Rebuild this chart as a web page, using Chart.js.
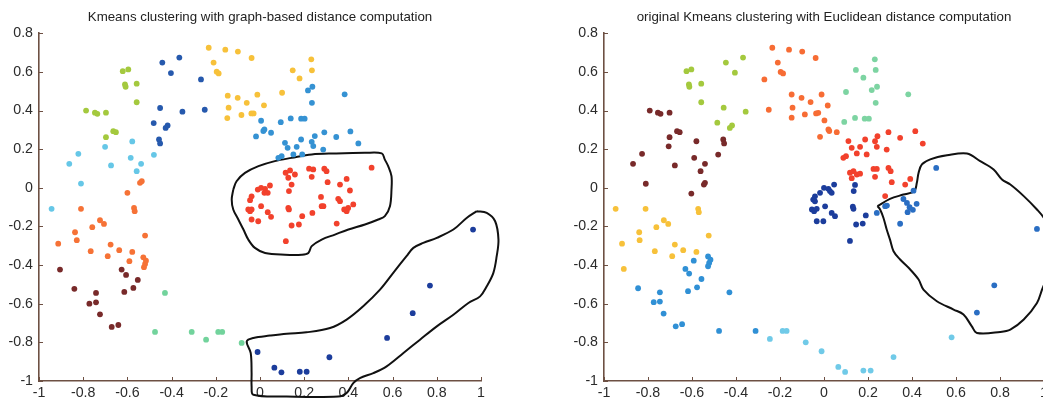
<!DOCTYPE html>
<html>
<head>
<meta charset="utf-8">
<title>Kmeans clustering</title>
<script src="https://cdn.jsdelivr.net/npm/chart.js@4.4.1/dist/chart.umd.min.js"></script>
<style>
  html, body { margin: 0; padding: 0; background: #fff; overflow: hidden; width: 1043px; height: 400px; }
  .panel { position: absolute; top: 0; height: 400px; }
  #leftPanel { left: 0; width: 520px; }
  #rightPanel { left: 565px; width: 518px; }
</style>
</head>
<body>
<div class="panel" id="leftPanel"><canvas id="chartLeft" width="520" height="400"></canvas></div>
<div class="panel" id="rightPanel"><canvas id="chartRight" width="518" height="400"></canvas></div>
<script>
// axis ticks
const xTickValues = [-1, -0.8, -0.6, -0.4, -0.2, 0, 0.2, 0.4, 0.6, 0.8, 1];
const yTickValues = [-1, -0.8, -0.6, -0.4, -0.2, 0, 0.2, 0.4, 0.6, 0.8];

const leftTitle = "Kmeans clustering with graph-based distance computation";
const rightTitle = "original Kmeans clustering with Euclidean distance computation";

// ---- graph-based clusters ----
const leftBlue = [[-0.442,0.648],[-0.365,0.674],[-0.403,0.594],[-0.267,0.561],[-0.452,0.413],[-0.351,0.394],[-0.25,0.404],[-0.481,0.335],[-0.427,0.31],[-0.418,0.323],[-0.457,0.25],[-0.452,0.23]];
const leftNavy = [[-0.011,-0.85],[0.065,-0.931],[0.097,-0.955],[0.18,-0.952],[0.211,-0.952],[0.314,-0.877],[0.575,-0.777],[0.691,-0.649],[0.769,-0.506],[0.964,-0.216]];
const leftYellow = [[-0.232,0.725],[-0.157,0.715],[-0.1,0.705],[-0.038,0.672],[-0.21,0.648],[-0.196,0.601],[-0.187,0.592],[-0.146,0.477],[-0.101,0.466],[-0.06,0.44],[-0.012,0.482],[-0.142,0.415],[-0.148,0.361],[-0.084,0.377],[-0.039,0.385],[-0.029,0.385],[0.018,0.427],[0.1,0.492],[0.148,0.608],[0.179,0.566],[0.232,0.665],[0.235,0.608]];
const leftSky = [[0.383,0.484],[0.217,0.504],[0.237,0.523],[0.235,0.44],[0.005,0.347],[0.02,0.302],[0.015,0.294],[0.05,0.285],[-0.018,0.266],[0.094,0.34],[0.139,0.359],[0.186,0.358],[0.202,0.358],[0.113,0.233],[0.125,0.207],[0.151,0.173],[0.166,0.212],[0.191,0.173],[0.186,0.25],[0.234,0.238],[0.248,0.268],[0.241,0.216],[0.291,0.287],[0.286,0.198],[0.345,0.263],[0.409,0.292],[0.445,0.23],[0.083,0.155],[0.098,0.164]];
const leftRed = [[0.505,0.104],[0.116,0.078],[0.136,0.09],[0.158,0.069],[0.128,0.052],[0.143,0.017],[0.131,-0.017],[0.222,0.099],[0.241,0.095],[0.234,0.057],[0.291,0.099],[0.301,0.086],[0.306,0.029],[0.362,0.017],[0.392,0.046],[0.407,-0.014],[0.276,-0.047],[0.354,-0.057],[0.362,-0.069],[0.422,-0.086],[0.279,-0.095],[0.287,-0.095],[0.381,-0.112],[0.399,-0.104],[0.392,-0.121],[0.237,-0.13],[0.191,-0.147],[0.176,-0.19],[0.143,-0.195],[0.347,-0.185],[0.128,-0.104],[0.131,-0.112],[0.117,-0.276],[0.045,0.012],[0.005,0.0],[-0.01,-0.009],[0.023,-0.005],[0.02,-0.026],[0.035,-0.026],[-0.038,-0.044],[-0.045,-0.064],[0.005,-0.095],[-0.053,-0.112],[-0.045,-0.121],[-0.038,-0.112],[0.035,-0.126],[0.05,-0.15],[-0.038,-0.164],[-0.008,-0.173]];
const leftLime = [[-0.621,0.604],[-0.596,0.613],[-0.611,0.535],[-0.608,0.523],[-0.558,0.539],[-0.558,0.443],[-0.787,0.4],[-0.747,0.389],[-0.736,0.383],[-0.697,0.389],[-0.664,0.293],[-0.652,0.288],[-0.697,0.262]];
const leftCyan = [[-0.578,0.24],[-0.822,0.176],[-0.863,0.124],[-0.701,0.212],[-0.674,0.116],[-0.585,0.155],[-0.538,0.124],[-0.558,0.086],[-0.48,0.171],[-0.81,0.022],[-0.943,-0.109]];
const leftOrange = [[-0.543,0.026],[-0.535,0.034],[-0.6,-0.026],[-0.57,-0.104],[-0.567,-0.121],[-0.81,-0.109],[-0.724,-0.168],[-0.706,-0.187],[-0.759,-0.204],[-0.837,-0.23],[-0.829,-0.271],[-0.913,-0.289],[-0.52,-0.247],[-0.676,-0.294],[-0.637,-0.323],[-0.766,-0.328],[-0.578,-0.332],[-0.689,-0.354],[-0.591,-0.38],[-0.528,-0.36],[-0.516,-0.377],[-0.52,-0.394],[-0.525,-0.411]];
const leftBrown = [[-0.905,-0.423],[-0.84,-0.523],[-0.742,-0.544],[-0.772,-0.6],[-0.742,-0.593],[-0.724,-0.655],[-0.671,-0.72],[-0.641,-0.71],[-0.626,-0.423],[-0.606,-0.451],[-0.614,-0.539],[-0.573,-0.518],[-0.553,-0.477]];
const leftMint = [[-0.43,-0.544],[-0.475,-0.746],[-0.309,-0.746],[-0.244,-0.786],[-0.189,-0.746],[-0.171,-0.746],[-0.083,-0.803]];

// hand-drawn outlines, graph-based panel
const leftLoopUpper = [[-0.121,-0.009],[-0.106,0.034],[-0.068,0.077],[-0.007,0.112],[0.067,0.138],[0.143,0.155],[0.234,0.173],[0.339,0.178],[0.475,0.181],[0.551,0.178],[0.565,0.146],[0.58,0.112],[0.595,0.06],[0.595,-0.009],[0.588,-0.095],[0.565,-0.147],[0.535,-0.164],[0.475,-0.19],[0.4,-0.216],[0.339,-0.242],[0.279,-0.268],[0.234,-0.302],[0.219,-0.337],[0.189,-0.346],[0.113,-0.346],[0.023,-0.337],[-0.023,-0.311],[-0.053,-0.268],[-0.075,-0.216],[-0.098,-0.164],[-0.121,-0.112],[-0.128,-0.06],[-0.121,-0.009]];
const leftLoopLower = [[0.981,-0.121],[1.026,-0.13],[1.064,-0.173],[1.079,-0.268],[1.071,-0.354],[1.056,-0.44],[1.026,-0.51],[0.996,-0.562],[0.943,-0.596],[0.875,-0.657],[0.8,-0.717],[0.724,-0.786],[0.649,-0.855],[0.573,-0.924],[0.513,-0.959],[0.452,-0.985],[0.422,-1.011],[0.392,-1.062],[0.354,-1.08],[0.121,-1.08],[-0.03,-1.071],[-0.038,-1.028],[-0.038,-0.959],[-0.042,-0.855],[-0.06,-0.795],[-0.03,-0.777],[0.045,-0.765],[0.121,-0.755],[0.21,-0.748],[0.317,-0.726],[0.392,-0.682],[0.467,-0.613],[0.543,-0.527],[0.603,-0.44],[0.663,-0.354],[0.694,-0.311],[0.739,-0.285],[0.8,-0.259],[0.875,-0.216],[0.935,-0.156],[0.981,-0.121]];

// ---- euclidean clusters ----
const rightBrown = [[-0.792,0.4],[-0.755,0.389],[-0.743,0.383],[-0.702,0.389],[-0.668,0.293],[-0.656,0.288],[-0.702,0.262],[-0.706,0.215],[-0.58,0.241],[-0.868,0.124],[-0.827,0.176],[-0.81,0.021],[-0.678,0.116],[-0.59,0.155],[-0.541,0.124],[-0.561,0.086],[-0.541,0.026],[-0.546,0.017],[-0.603,-0.03],[-0.481,0.172],[-0.458,0.25],[-0.454,0.23]];
const rightLime = [[-0.625,0.604],[-0.603,0.613],[-0.614,0.535],[-0.612,0.523],[-0.558,0.539],[-0.558,0.443],[-0.446,0.648],[-0.368,0.674],[-0.405,0.596],[-0.456,0.415],[-0.356,0.394],[-0.485,0.337],[-0.428,0.31],[-0.418,0.323]];
const rightOrange = [[-0.235,0.725],[-0.159,0.715],[-0.099,0.705],[-0.038,0.672],[-0.21,0.648],[-0.197,0.6],[-0.186,0.592],[-0.271,0.561],[-0.251,0.404],[-0.147,0.483],[-0.102,0.466],[-0.061,0.444],[-0.011,0.483],[-0.143,0.415],[-0.147,0.363],[-0.087,0.38],[-0.036,0.385],[-0.026,0.388],[0.017,0.426],[0.002,0.349],[0.02,0.302],[0.024,0.294],[-0.018,0.264],[0.058,0.288]];
const rightMint = [[0.231,0.665],[0.235,0.61],[0.241,0.523],[0.217,0.506],[0.235,0.44],[0.145,0.61],[0.179,0.57],[0.1,0.496],[0.092,0.341],[0.141,0.362],[0.185,0.358],[0.204,0.358],[0.383,0.484]];
const rightRed = [[0.111,0.242],[0.126,0.207],[0.164,0.212],[0.187,0.25],[0.232,0.241],[0.243,0.267],[0.24,0.212],[0.285,0.198],[0.293,0.288],[0.346,0.259],[0.415,0.293],[0.449,0.229],[0.088,0.155],[0.1,0.164],[0.149,0.178],[0.194,0.173],[0.118,0.078],[0.134,0.086],[0.149,0.069],[0.164,0.073],[0.126,0.05],[0.225,0.098],[0.24,0.098],[0.232,0.057],[0.293,0.103],[0.303,0.086],[0.308,0.029],[0.369,0.017],[0.392,0.046],[0.278,-0.043]];
const rightNavy = [[0.046,0.017],[0.0,0.0],[0.02,-0.005],[0.027,-0.017],[0.035,-0.026],[-0.018,-0.026],[-0.041,-0.044],[-0.049,-0.061],[-0.041,-0.07],[0.005,-0.096],[-0.055,-0.112],[-0.045,-0.121],[-0.033,-0.109],[0.035,-0.13],[0.05,-0.147],[-0.033,-0.173],[-0.003,-0.173],[0.141,0.015],[0.135,-0.017],[0.131,-0.098],[0.134,-0.109],[0.19,-0.143],[0.176,-0.185],[0.146,-0.19],[0.118,-0.275]];
const rightBlue = [[0.24,-0.13],[0.278,-0.095],[0.286,-0.092],[0.361,-0.058],[0.377,-0.078],[0.38,-0.126],[0.389,-0.1],[0.404,-0.114],[0.421,-0.083],[0.346,-0.186],[0.407,-0.015],[0.51,0.103],[0.968,-0.213],[0.774,-0.505],[0.695,-0.646]];
const rightYellow = [[-0.947,-0.109],[-0.811,-0.109],[-0.572,-0.109],[-0.569,-0.126],[-0.728,-0.168],[-0.708,-0.187],[-0.762,-0.204],[-0.84,-0.23],[-0.838,-0.271],[-0.918,-0.289],[-0.524,-0.247],[-0.678,-0.294],[-0.64,-0.323],[-0.769,-0.328],[-0.58,-0.332],[-0.69,-0.354],[-0.91,-0.42]];
const rightSky = [[-0.527,-0.355],[-0.516,-0.372],[-0.522,-0.389],[-0.527,-0.406],[-0.592,-0.377],[-0.63,-0.42],[-0.613,-0.444],[-0.557,-0.472],[-0.577,-0.515],[-0.618,-0.535],[-0.43,-0.541],[-0.845,-0.52],[-0.746,-0.541],[-0.746,-0.589],[-0.774,-0.592],[-0.729,-0.651],[-0.674,-0.717],[-0.645,-0.706],[-0.477,-0.741],[-0.311,-0.741]];
const rightCyan = [[-0.246,-0.782],[-0.188,-0.741],[-0.17,-0.741],[-0.083,-0.8],[-0.011,-0.846],[0.065,-0.927],[0.096,-0.953],[0.179,-0.946],[0.212,-0.946],[0.316,-0.876],[0.58,-0.774]];

// outline, euclidean panel
const rightLoop = [[0.243,-0.095],[0.3,-0.057],[0.361,-0.035],[0.41,-0.018],[0.422,0.026],[0.43,0.078],[0.445,0.121],[0.483,0.147],[0.559,0.168],[0.65,0.178],[0.71,0.138],[0.771,0.095],[0.809,0.043],[0.847,0.017],[0.908,-0.043],[0.968,-0.112],[0.999,-0.155],[1.022,-0.216],[1.029,-0.354],[1.014,-0.458],[0.991,-0.527],[0.968,-0.596],[0.908,-0.682],[0.847,-0.734],[0.801,-0.746],[0.695,-0.751],[0.672,-0.717],[0.634,-0.656],[0.589,-0.63],[0.513,-0.587],[0.452,-0.527],[0.43,-0.475],[0.392,-0.423],[0.346,-0.371],[0.316,-0.328],[0.3,-0.268],[0.285,-0.216],[0.27,-0.155],[0.255,-0.112],[0.243,-0.095]];

const axisColor = "#6d5043";
const fontFamily = "'Liberation Sans', Arial, sans-serif";

const toPts = (arr) => arr.map(([x, y]) => ({ x, y }));

function dotSet(arr, color) {
  return {
    data: toPts(arr),
    backgroundColor: color,
    borderColor: color,
    borderWidth: 0,
    pointRadius: 2.9,
  };
}

function outlineSet(arr) {
  return {
    data: toPts(arr),
    showLine: true,
    borderColor: "#111",
    borderWidth: 2,
    pointRadius: 0,
    tension: 0.35,
    fill: false,
    clip: false,
  };
}

// MATLAB style tick marks pointing into the plot
const inwardTicks = {
  id: "inwardTicks",
  afterDraw(chart) {
    const { ctx, chartArea, scales } = chart;
    ctx.save();
    ctx.strokeStyle = axisColor;
    ctx.lineWidth = 1;
    ctx.beginPath();
    scales.x.ticks.forEach((t) => {
      const px = Math.round(scales.x.getPixelForValue(t.value)) + 0.5;
      ctx.moveTo(px, chartArea.bottom);
      ctx.lineTo(px, chartArea.bottom - 4);
    });
    scales.y.ticks.forEach((t) => {
      const py = Math.round(scales.y.getPixelForValue(t.value)) + 0.5;
      ctx.moveTo(chartArea.left, py);
      ctx.lineTo(chartArea.left + 4, py);
    });
    ctx.stroke();
    ctx.restore();
  },
};

function makeConfig(title, datasets) {
  return {
    type: "scatter",
    data: { datasets },
    options: {
      responsive: false,
      animation: false,
      events: [],
      layout: { padding: { left: 0, right: 39, top: 0, bottom: 0 } },
      elements: { line: { capBezierPoints: false } },
      plugins: {
        legend: { display: false },
        tooltip: { enabled: false },
        title: {
          display: true,
          fullSize: false,
          text: title,
          color: "#222",
          font: { family: fontFamily, size: 13.3, weight: "normal" },
          padding: { top: 9, bottom: 8.3 },
        },
      },
      scales: {
        x: {
          type: "linear",
          min: -1,
          max: 1,
          afterBuildTicks: (s) => { s.ticks = xTickValues.map((v) => ({ value: v })); },
          afterFit: (s) => { s.height = 19; },
          grid: { display: false, drawTicks: false },
          border: { display: true, color: axisColor, width: 1.6 },
          ticks: {
            autoSkip: false,
            maxRotation: 0,
            padding: 4,
            color: "#2b2b2b",
            font: { family: fontFamily, size: 14.2 },
            callback: (v) => String(v),
          },
        },
        y: {
          type: "linear",
          min: -1,
          max: 0.8,
          afterBuildTicks: (s) => { s.ticks = yTickValues.map((v) => ({ value: v })); },
          afterFit: (s) => { s.width = 39; },
          grid: { display: false, drawTicks: false },
          border: { display: true, color: axisColor, width: 1.6 },
          ticks: {
            autoSkip: false,
            padding: 6,
            color: "#2b2b2b",
            font: { family: fontFamily, size: 14.2 },
            callback: (v) => String(v),
          },
        },
      },
    },
    plugins: [inwardTicks],
  };
}

new Chart(document.getElementById("chartLeft"), makeConfig(leftTitle, [
  dotSet(leftBlue, "#2659ad"),
  dotSet(leftNavy, "#1c3d9c"),
  dotSet(leftYellow, "#f7c13a"),
  dotSet(leftSky, "#3592d3"),
  dotSet(leftRed, "#f2412c"),
  dotSet(leftLime, "#a4c93e"),
  dotSet(leftCyan, "#66c7e7"),
  dotSet(leftOrange, "#f67236"),
  dotSet(leftBrown, "#782a2a"),
  dotSet(leftMint, "#72d39c"),
  outlineSet(leftLoopUpper),
  outlineSet(leftLoopLower),
]));

new Chart(document.getElementById("chartRight"), makeConfig(rightTitle, [
  dotSet(rightBrown, "#782a2a"),
  dotSet(rightLime, "#a4c93e"),
  dotSet(rightOrange, "#f76c34"),
  dotSet(rightMint, "#7dd4a2"),
  dotSet(rightRed, "#f2412c"),
  dotSet(rightNavy, "#1c3d9c"),
  dotSet(rightBlue, "#2a6ec3"),
  dotSet(rightYellow, "#f7c13a"),
  dotSet(rightSky, "#3090d5"),
  dotSet(rightCyan, "#70cae8"),
  outlineSet(rightLoop),
]));
</script>
</body>
</html>
